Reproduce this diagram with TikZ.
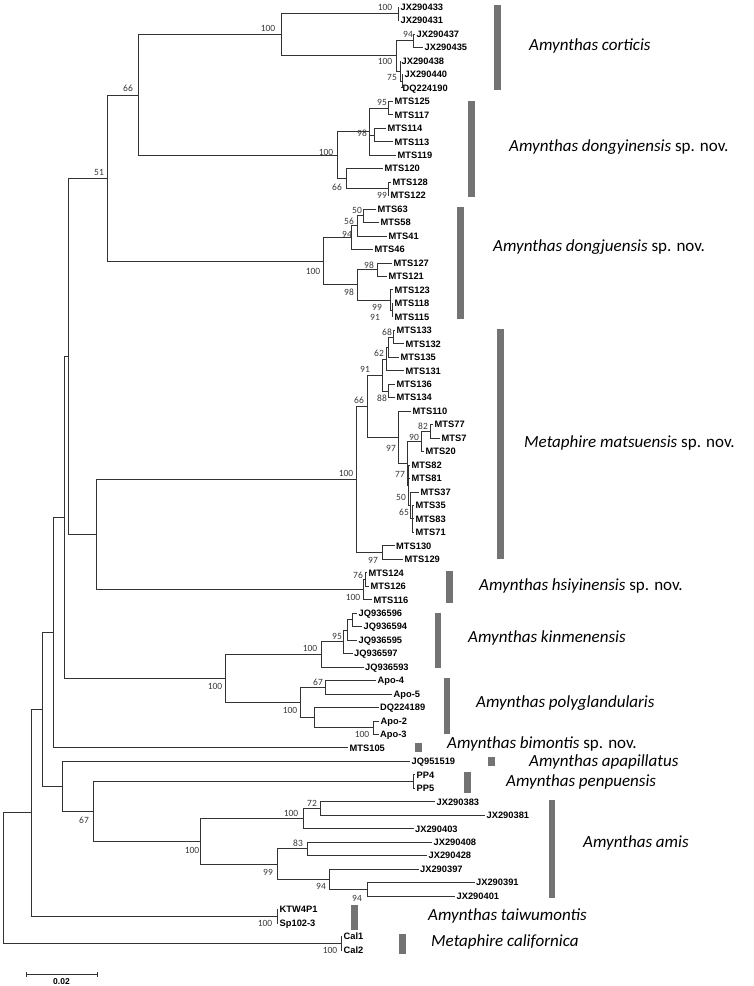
\documentclass[tikz,border=0pt]{standalone}
\usepackage{fontspec}
\setmainfont{Carlito}
\newfontfamily\tipfont{Liberation Sans}
\usetikzlibrary{calc}
\newcommand\tipn[4]{\coordinate (#1) at (#2,{7+13.47*#3}); \node[tiplab] (#1l) at (#1) {#4};}
\newcommand\ndm[4]{\coordinate (#1m) at ($(#3)!0.5!(#4)$); \coordinate (#1) at (#2,0 |- #1m);}
\newcommand\brn[2]{\draw[brline] (#1) |- (#2);}
\newcommand\bsv[4]{\node[bsl] (#1) at (#2,#3) {#4};}
\tikzset{
  brline/.style={draw=black!80, line width=0.8pt},
  tiplab/.style={anchor=west, inner xsep=1.5pt, inner ysep=0pt, text height=6.7pt, text depth=0pt,
    font=\tipfont\bfseries\fontsize{9.3}{10}\selectfont},
  bsl/.style={inner sep=0pt, text=black!78, font=\fontsize{9.5}{10}\selectfont},
  barfill/.style={fill=black!55},
  splab/.style={anchor=west, inner sep=0pt, text height=10pt, text depth=3pt,
    font=\fontsize{17}{18}\selectfont},
}
\begin{document}
\begin{tikzpicture}[x=1pt,y=-1pt]
\useasboundingbox (0,0) rectangle (754,986);
% ---------- tips ----------
\tipn{t0}{399}{0}{JX290433}
\tipn{t1}{399}{1}{JX290431}
\tipn{t2}{415}{2}{JX290437}
\tipn{t3}{423}{3}{JX290435}
\tipn{t4}{400}{4}{JX290438}
\tipn{t5}{403}{5}{JX290440}
\tipn{t6}{401}{6}{DQ224190}
\tipn{t7}{393}{7}{MTS125}
\tipn{t8}{393}{8}{MTS117}
\tipn{t9}{386}{9}{MTS114}
\tipn{t10}{393}{10}{MTS113}
\tipn{t11}{396}{11}{MTS119}
\tipn{t12}{383}{12}{MTS120}
\tipn{t13}{391}{13}{MTS128}
\tipn{t14}{389}{14}{MTS122}
\tipn{t15}{376}{15}{MTS63}
\tipn{t16}{379}{16}{MTS58}
\tipn{t17}{387}{17}{MTS41}
\tipn{t18}{373}{18}{MTS46}
\tipn{t19}{392}{19}{MTS127}
\tipn{t20}{387}{20}{MTS121}
\tipn{t21}{393}{21}{MTS123}
\tipn{t22}{393}{22}{MTS118}
\tipn{t23}{393}{23}{MTS115}
\tipn{t24}{395}{24}{MTS133}
\tipn{t25}{404}{25}{MTS132}
\tipn{t26}{399}{26}{MTS135}
\tipn{t27}{404}{27}{MTS131}
\tipn{t28}{395}{28}{MTS136}
\tipn{t29}{395}{29}{MTS134}
\tipn{t30}{411}{30}{MTS110}
\tipn{t31}{433}{31}{MTS77}
\tipn{t32}{440}{32}{MTS7}
\tipn{t33}{424}{33}{MTS20}
\tipn{t34}{410}{34}{MTS82}
\tipn{t35}{410}{35}{MTS81}
\tipn{t36}{419}{36}{MTS37}
\tipn{t37}{414}{37}{MTS35}
\tipn{t38}{414}{38}{MTS83}
\tipn{t39}{414}{39}{MTS71}
\tipn{t40}{394.5}{40}{MTS130}
\tipn{t41}{403}{41}{MTS129}
\tipn{t42}{367}{42}{MTS124}
\tipn{t43}{369}{43}{MTS126}
\tipn{t44}{372}{44}{MTS116}
\tipn{t45}{357}{45}{JQ936596}
\tipn{t46}{362}{46}{JQ936594}
\tipn{t47}{357}{47}{JQ936595}
\tipn{t48}{352.5}{48}{JQ936597}
\tipn{t49}{363.5}{49}{JQ936593}
\tipn{t50}{376}{50}{Apo-4}
\tipn{t51}{392}{51}{Apo-5}
\tipn{t52}{378.5}{52}{DQ224189}
\tipn{t53}{379}{53}{Apo-2}
\tipn{t54}{378.5}{54}{Apo-3}
\tipn{t55}{348}{55}{MTS105}
\tipn{t56}{410}{56}{JQ951519}
\tipn{t57}{415}{57}{PP4}
\tipn{t58}{415}{58}{PP5}
\tipn{t59}{435}{59}{JX290383}
\tipn{t60}{485}{60}{JX290381}
\tipn{t61}{413.5}{61}{JX290403}
\tipn{t62}{432}{62}{JX290408}
\tipn{t63}{427}{63}{JX290428}
\tipn{t64}{418.5}{64}{JX290397}
\tipn{t65}{474.5}{65}{JX290391}
\tipn{t66}{455}{66}{JX290401}
\tipn{t67}{278}{67}{KTW4P1}
\tipn{t68}{278}{68}{Sp102-3}
\tipn{t69}{342}{69}{Cal1}
\tipn{t70}{342}{70}{Cal2}
% ---------- internal nodes ----------
\ndm{c1}{398}{t0}{t1}
\ndm{c94}{413}{t2}{t3}
\ndm{c75}{402}{t5}{t6}
\ndm{c3}{400}{t4}{c75}
\ndm{c2}{396}{c94}{c3}
\ndm{CO}{281}{c1}{c2}
\ndm{d95}{388}{t7}{t8}
\ndm{dR}{374}{t9}{t10}
\ndm{Q}{369}{d95}{t11}
\ndm{d99}{388}{t13}{t14}
\ndm{d66}{346}{t12}{d99}
\ndm{DY}{337}{Q}{d66}
\ndm{P}{138}{CO}{DY}
\ndm{j50}{363}{t15}{t16}
\ndm{j56}{357}{j50}{t17}
\ndm{j94}{351}{j56}{t18}
\ndm{j98a}{377}{t19}{t20}
\ndm{j91}{392}{t22}{t23}
\ndm{j99}{390}{t21}{j91}
\ndm{j98}{357}{j98a}{j99}
\ndm{DJ}{323}{j94}{j98}
\ndm{N}{107}{P}{DJ}
\ndm{m68}{393}{t24}{t25}
\ndm{mX}{388}{m68}{t26}
\ndm{m62}{386}{mX}{t27}
\ndm{m88}{388}{t28}{t29}
\ndm{V}{382}{m62}{m88}
\ndm{m82}{430}{t31}{t32}
\ndm{m90}{421}{m82}{t33}
\ndm{BB}{412}{t37}{t39}
\ndm{AA}{410}{t36}{BB}
\ndm{Z}{408.5}{t34}{AA}
\ndm{Y}{407}{m90}{Z}
\ndm{W}{398}{t30}{Y}
\ndm{T}{367}{V}{W}
\ndm{U}{382}{t40}{t41}
\ndm{S}{356}{T}{U}
\ndm{h76}{365}{t42}{t43}
\ndm{HS}{363}{h76}{t44}
\ndm{O}{96}{S}{HS}
\ndm{L}{68}{N}{O}
\ndm{k1}{352}{t45}{t46}
\ndm{k2}{347}{k1}{t47}
\ndm{k95}{343}{k2}{t48}
\ndm{KN}{321}{k95}{t49}
\ndm{p67}{325}{t50}{t51}
\ndm{p100}{373}{t53}{t54}
\ndm{PGb}{314}{t52}{p100}
\ndm{PG}{300}{p67}{PGb}
\ndm{M}{225}{KN}{PG}
\ndm{K}{64}{L}{M}
\ndm{C}{53}{K}{t55}
\ndm{pp}{413}{t57}{t58}
\ndm{a72}{320}{t59}{t60}
\ndm{G}{303}{a72}{t61}
\ndm{a83}{307}{t62}{t63}
\ndm{J}{367}{t65}{t66}
\ndm{I}{329}{t64}{J}
\ndm{H}{277}{a83}{I}
\ndm{F}{200}{G}{H}
\ndm{E}{93}{pp}{F}
\ndm{D}{62}{t56}{E}
\ndm{B}{42}{C}{D}
\ndm{ktw}{277}{t67}{t68}
\ndm{A}{31}{B}{ktw}
\ndm{cal}{341}{t69}{t70}
\ndm{root}{3}{A}{cal}
% ---------- branches ----------
\brn{c1}{t0}\brn{c1}{t1}
\brn{c94}{t2}\brn{c94}{t3}
\brn{c75}{t5}\brn{c75}{t6}
\brn{c3}{t4}\brn{c3}{c75}
\brn{c2}{c94}\brn{c2}{c3}
\brn{CO}{c1}\brn{CO}{c2}
\brn{d95}{t7}\brn{d95}{t8}
\brn{dR}{t9}\brn{dR}{t10}
\brn{Q}{d95}\brn{Q}{dR}\brn{Q}{t11}
\brn{d99}{t13}\brn{d99}{t14}
\brn{d66}{t12}\brn{d66}{d99}
\brn{DY}{Q}\brn{DY}{d66}
\brn{P}{CO}\brn{P}{DY}
\brn{j50}{t15}\brn{j50}{t16}
\brn{j56}{j50}\brn{j56}{t17}
\brn{j94}{j56}\brn{j94}{t18}
\brn{j98a}{t19}\brn{j98a}{t20}
\brn{j91}{t22}\brn{j91}{t23}
\brn{j99}{t21}\brn{j99}{j91}
\brn{j98}{j98a}\brn{j98}{j99}
\brn{DJ}{j94}\brn{DJ}{j98}
\brn{N}{P}\brn{N}{DJ}
\brn{m68}{t24}\brn{m68}{t25}
\brn{mX}{m68}\brn{mX}{t26}
\brn{m62}{mX}\brn{m62}{t27}
\brn{m88}{t28}\brn{m88}{t29}
\brn{V}{m62}\brn{V}{m88}
\brn{m82}{t31}\brn{m82}{t32}
\brn{m90}{m82}\brn{m90}{t33}
\brn{BB}{t37}\brn{BB}{t38}\brn{BB}{t39}
\brn{AA}{t36}\brn{AA}{BB}
\brn{Z}{t34}\brn{Z}{t35}\brn{Z}{AA}
\brn{Y}{m90}\brn{Y}{Z}
\brn{W}{t30}\brn{W}{Y}
\brn{T}{V}\brn{T}{W}
\brn{U}{t40}\brn{U}{t41}
\brn{S}{T}\brn{S}{U}
\brn{h76}{t42}\brn{h76}{t43}
\brn{HS}{h76}\brn{HS}{t44}
\brn{O}{S}\brn{O}{HS}
\brn{L}{N}\brn{L}{O}
\brn{k1}{t45}\brn{k1}{t46}
\brn{k2}{k1}\brn{k2}{t47}
\brn{k95}{k2}\brn{k95}{t48}
\brn{KN}{k95}\brn{KN}{t49}
\brn{p67}{t50}\brn{p67}{t51}
\brn{p100}{t53}\brn{p100}{t54}
\brn{PGb}{t52}\brn{PGb}{p100}
\brn{PG}{p67}\brn{PG}{PGb}
\brn{M}{KN}\brn{M}{PG}
\brn{K}{L}\brn{K}{M}
\brn{C}{K}\brn{C}{t55}
\brn{pp}{t57}\brn{pp}{t58}
\brn{a72}{t59}\brn{a72}{t60}
\brn{G}{a72}\brn{G}{t61}
\brn{a83}{t62}\brn{a83}{t63}
\brn{J}{t65}\brn{J}{t66}
\brn{I}{t64}\brn{I}{J}
\brn{H}{a83}\brn{H}{I}
\brn{F}{G}\brn{F}{H}
\brn{E}{pp}\brn{E}{F}
\brn{D}{t56}\brn{D}{E}
\brn{B}{C}\brn{B}{D}
\brn{ktw}{t67}\brn{ktw}{t68}
\brn{A}{B}\brn{A}{ktw}
\brn{cal}{t69}\brn{cal}{t70}
\brn{root}{A}\brn{root}{cal}
% ---------- bootstrap values ----------
\bsv{bCO}{268}{28}{100}
\bsv{bc1}{385}{7}{100}
\bsv{bc94}{408}{34}{94}
\bsv{bc2}{385}{61}{100}
\bsv{bc75}{392}{77}{75}
\bsv{bd95}{382}{102}{95}
\bsv{bQ}{362}{133}{98}
\bsv{bDY}{326}{152}{100}
\bsv{bd66}{337}{187}{66}
\bsv{bd99}{382}{195}{99}
\bsv{bj50}{357}{210}{50}
\bsv{bj56}{349}{221}{56}
\bsv{bj94}{347}{234}{94}
\bsv{bDJ}{313}{271}{100}
\bsv{bj98a}{369}{265}{98}
\bsv{bj98}{349}{292}{98}
\bsv{bj99}{377}{307}{99}
\bsv{bj91}{375}{317}{91}
\bsv{bm68}{387}{332}{68}
\bsv{bm62}{379}{353}{62}
\bsv{bV}{365}{369}{91}
\bsv{bT}{359}{400}{66}
\bsv{bm88}{382}{398}{88}
\bsv{bm82}{423}{426}{82}
\bsv{bm90}{414}{437}{90}
\bsv{bW}{391}{448}{97}
\bsv{bS}{346}{473}{100}
\bsv{bZ}{400}{474}{77}
\bsv{bAA}{401}{497}{50}
\bsv{bBB}{404}{512}{65}
\bsv{bU}{373}{560}{97}
\bsv{bh76}{358}{575}{76}
\bsv{bHS}{353}{597}{100}
\bsv{bk95}{337}{636}{95}
\bsv{bKN}{310}{648}{100}
\bsv{bM}{215}{686}{100}
\bsv{bp67}{318}{682}{67}
\bsv{bPG}{290}{710}{100}
\bsv{bp100}{362}{734}{100}
\bsv{bE}{84}{820}{67}
\bsv{ba72}{312}{803}{72}
\bsv{bG}{291}{813}{100}
\bsv{ba83}{298}{843}{83}
\bsv{bF}{192}{850}{100}
\bsv{bH}{268}{872}{99}
\bsv{bI}{321}{886}{94}
\bsv{bJ}{357}{898}{94}
\bsv{bktw}{265}{923}{100}
\bsv{bcal}{330}{950}{100}
\bsv{bN}{99}{172}{51}
\bsv{bP}{128}{88}{66}
% ---------- clade bars ----------
\fill[barfill] (494,5) rectangle (501,90);
\fill[barfill] (468,101) rectangle (475,197);
\fill[barfill] (457,207) rectangle (463.5,319);
\fill[barfill] (497,329) rectangle (503.5,559);
\fill[barfill] (446,571) rectangle (452.5,603);
\fill[barfill] (435,613) rectangle (441,668);
\fill[barfill] (444,678) rectangle (450,734);
\fill[barfill] (415,743) rectangle (421.5,752);
\fill[barfill] (488,757) rectangle (494.5,766);
\fill[barfill] (464,772) rectangle (470.5,793);
\fill[barfill] (549,800) rectangle (555,898);
\fill[barfill] (351,905) rectangle (357.5,930);
\fill[barfill] (399,934) rectangle (405.5,954);
% ---------- species names ----------
\node[splab] (s1) at (529,47) {\textit{Amynthas corticis}};
\node[splab] (s2) at (509,148) {\textit{Amynthas dongyinensis} sp. nov.};
\node[splab] (s3) at (493,248) {\textit{Amynthas dongjuensis} sp. nov.};
\node[splab] (s4) at (524,444) {\textit{Metaphire matsuensis} sp. nov.};
\node[splab] (s5) at (479,587) {\textit{Amynthas hsiyinensis} sp. nov.};
\node[splab] (s6) at (468,639) {\textit{Amynthas kinmenensis}};
\node[splab] (s7) at (476,704) {\textit{Amynthas polyglandularis}};
\node[splab] (s8) at (447,744.5) {\textit{Amynthas bimontis} sp. nov.};
\node[splab] (s9) at (529,762.5) {\textit{Amynthas apapillatus}};
\node[splab] (s10) at (506,782.5) {\textit{Amynthas penpuensis}};
\node[splab] (s11) at (583,844) {\textit{Amynthas amis}};
\node[splab] (s12) at (428,917) {\textit{Amynthas taiwumontis}};
\node[splab] (s13) at (431,943) {\textit{Metaphire californica}};
% ---------- scale bar ----------
\coordinate (sb1) at (26,974);
\coordinate (sb2) at (97,974);
\draw[brline] (sb1) -- (sb2);
\draw[brline] ([yshift=-2.5pt]sb1) -- ([yshift=2.5pt]sb1);
\draw[brline] ([yshift=-2.5pt]sb2) -- ([yshift=2.5pt]sb2);
\node[tiplab, anchor=center, font=\tipfont\bfseries\fontsize{8.5}{9}\selectfont] (sbl) at (61.5,981.5) {0.02};
\end{tikzpicture}
\end{document}
